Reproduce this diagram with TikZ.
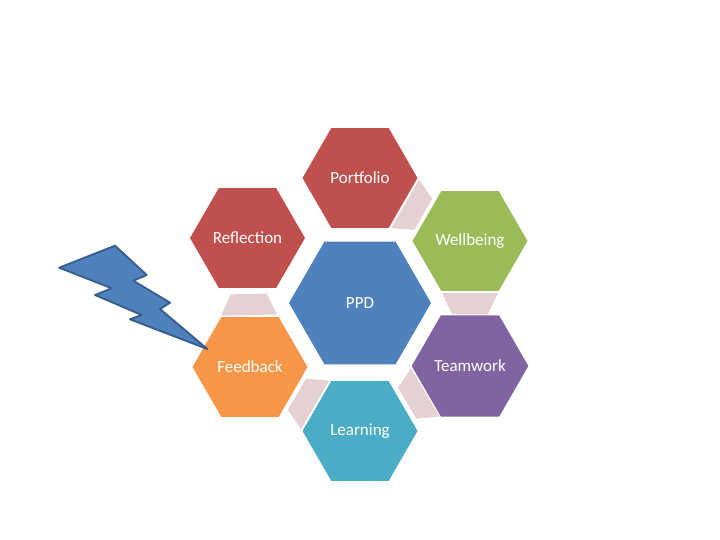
\documentclass[tikz,border=0pt]{standalone}
\usepackage{fontspec}
\setmainfont{Carlito}
\usetikzlibrary{shapes.geometric,calc}
\definecolor{hred}{HTML}{C0504D}
\definecolor{hgreen}{HTML}{9BBB59}
\definecolor{hblue}{HTML}{4F81BD}
\definecolor{horange}{HTML}{F79646}
\definecolor{hpurple}{HTML}{8064A2}
\definecolor{hteal}{HTML}{4BACC6}
\definecolor{connpink}{RGB}{229,208,210}
\definecolor{boltline}{HTML}{385D8A}
\tikzset{
  hexa/.style={regular polygon, regular polygon sides=6, minimum size=115pt,
    inner sep=0pt, outer sep=0pt, text=white, font=\fontsize{17}{19}\selectfont},
  bighexa/.style={hexa, minimum size=142pt},
  connfill/.style={fill=connpink},
  bolt/.style={fill=hblue, draw=boltline, line width=1.9pt, line join=round}
}
\newcommand\hexconn[2]{%
  \path ($(#1)!52pt!(#2)$) coordinate (ca) ($(#1)!73pt!(#2)$) coordinate (cb);
  \fill[connfill] ($(ca)!28pt!90:(#2)$) -- ($(ca)!28pt!-90:(#2)$)
     -- ($(cb)!18pt!-90:(#2)$) -- ($(cb)!18pt!90:(#2)$) -- cycle;}
\begin{document}
\begin{tikzpicture}[x=1pt,y=-1pt]
\useasboundingbox (0,0) rectangle (720,540);
\node[hexa, fill=hred] (portfolio) at (360,178) {Portfolio};
\node[hexa, fill=hred] (reflection) at (247.5,238) {Reflection};
\node[hexa, fill=hgreen] (wellbeing) at (470,241) {Wellbeing};
\node[bighexa, fill=hblue] (ppd) at (360,303) {PPD};
\node[hexa, fill=horange] (feedback) at (250,367) {Feedback};
\node[hexa, fill=hpurple] (teamwork) at (470,366) {Teamwork};
\node[hexa, fill=hteal] (learning) at (360,431) {Learning};
\hexconn{portfolio}{wellbeing}
\hexconn{wellbeing}{teamwork}
\hexconn{teamwork}{learning}
\hexconn{learning}{feedback}
\hexconn{feedback}{reflection}
\draw[bolt] (59.3,267.7) -- (115,245.7) -- (146.7,275) -- (133.3,280.7)
  -- (170,302.7) -- (160,309) -- (207.3,349) -- (130,319.3) -- (141.7,315)
  -- (95,295) -- (111.7,288.3) -- cycle;
\end{tikzpicture}
\end{document}
